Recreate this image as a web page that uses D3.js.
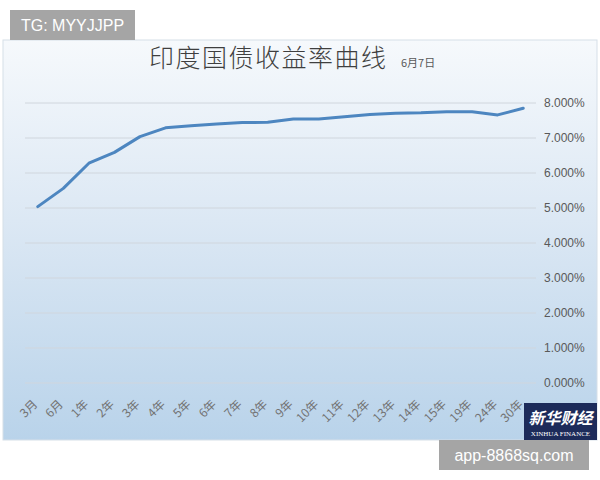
<!DOCTYPE html>
<html>
<head>
<meta charset="utf-8">
<script src="https://cdn.jsdelivr.net/npm/d3@7/dist/d3.min.js"></script>
<style>
  body { margin: 0; background: #fff; }
  svg { display: block; }
  .tick text { font-family: "Liberation Sans", Arial, sans-serif; }
</style>
</head>
<body>
<svg id="chart" width="600" height="480"></svg>
<script>
"use strict";

// datos
const categorias = ["3月", "6月", "1年", "2年", "3年", "4年", "5年", "6年", "7年", "8年",
    "9年", "10年", "11年", "12年", "13年", "14年", "15年", "19年", "24年", "30年"];
const rendimientos = [5.04, 5.56, 6.28, 6.59, 7.04, 7.29, 7.35, 7.40, 7.44, 7.45,
    7.54, 7.54, 7.61, 7.67, 7.71, 7.72, 7.75, 7.75, 7.66, 7.85];
const ticksY = [0, 1, 2, 3, 4, 5, 6, 7, 8];

const svg = d3.select("#chart");
const panel = { x: 3, y: 40, w: 594, h: 400 };

const defs = svg.append("defs");
const grad = defs.append("linearGradient")
    .attr("id", "fondo")
    .attr("x1", 0).attr("y1", 0).attr("x2", 0).attr("y2", 1);
grad.append("stop").attr("offset", "0%").attr("stop-color", "#f6f9fc");
grad.append("stop").attr("offset", "45%").attr("stop-color", "#dce8f4");
grad.append("stop").attr("offset", "100%").attr("stop-color", "#b9d3ea");

svg.append("rect")
    .attr("x", panel.x).attr("y", panel.y)
    .attr("width", panel.w).attr("height", panel.h)
    .attr("fill", "url(#fondo)")
    .attr("stroke", "#d6dfe8");

const x = d3.scalePoint()
    .domain(categorias)
    .range([25, 536])
    .padding(0.5);

const y = d3.scaleLinear()
    .domain([0, 8])
    .range([383, 103]);

// lineas de cuadricula
svg.append("g")
    .selectAll("line")
    .data(ticksY)
    .enter().append("line")
    .attr("x1", 25).attr("x2", 536)
    .attr("y1", d => y(d)).attr("y2", d => y(d))
    .attr("stroke", "#d0d6dd")
    .attr("stroke-width", 1);

// eje derecho
const ejeY = svg.append("g")
    .attr("transform", "translate(536,0)")
    .call(d3.axisRight(y).tickValues(ticksY).tickSize(0).tickPadding(8)
        .tickFormat(d => d.toFixed(3) + "%"));
ejeY.select(".domain").remove();
ejeY.selectAll("text")
    .attr("fill", "#595959")
    .style("font-size", "12px");

// eje inferior
const ejeX = svg.append("g")
    .attr("transform", "translate(0,392)")
    .call(d3.axisBottom(x).tickSize(0).tickPadding(0));
ejeX.select(".domain").remove();
ejeX.selectAll("text")
    .attr("fill", "#737373")
    .style("font-size", "12px")
    .style("font-family", "'Noto Sans CJK SC', sans-serif")
    .attr("text-anchor", "end")
    .attr("dy", "0.35em")
    .attr("transform", "translate(-3,10) rotate(-45)");

// curva
const linea = d3.line()
    .x((d, i) => x(categorias[i]))
    .y(d => y(d));

svg.append("path")
    .datum(rendimientos)
    .attr("d", linea)
    .attr("fill", "none")
    .attr("stroke", "#4d86c0")
    .attr("stroke-width", 3)
    .attr("stroke-linejoin", "round")
    .attr("stroke-linecap", "round");

// titulo
svg.append("text")
    .attr("x", 149).attr("y", 67)
    .attr("fill", "#3f3f3f")
    .style("font-family", "KaiTi, STKaiti, 'Noto Sans CJK SC', sans-serif")
    .style("font-size", "25px")
    .style("font-weight", "300")
    .style("letter-spacing", "1.5px")
    .text("印度国债收益率曲线");
svg.append("text")
    .attr("x", 401).attr("y", 67)
    .attr("fill", "#595959")
    .style("font-family", "'Noto Sans CJK SC', sans-serif")
    .style("font-size", "11px")
    .text("6月7日");

// marcas de agua
function etiqueta(xx, yy, w, h, texto, tam) {
    svg.append("rect").attr("x", xx).attr("y", yy).attr("width", w).attr("height", h)
        .attr("fill", "#a5a5a5");
    svg.append("text").attr("x", xx + w / 2).attr("y", yy + h / 2)
        .attr("text-anchor", "middle").attr("dy", "0.36em")
        .attr("fill", "#fff")
        .style("font-family", "'Liberation Sans', Arial, sans-serif")
        .style("font-size", tam + "px")
        .text(texto);
}
etiqueta(10, 10, 125, 30, "TG: MYYJJPP", 16);
etiqueta(439, 440, 150, 30, "app-8868sq.com", 16);

// logo
const logo = svg.append("g").attr("transform", "translate(524,403)");
logo.append("rect").attr("width", 73).attr("height", 37).attr("fill", "#1d2b5a");
logo.append("text").attr("x", 36.5).attr("y", 21)
    .attr("text-anchor", "middle").attr("fill", "#fff")
    .style("font-family", "KaiTi, 'Noto Sans CJK SC', sans-serif")
    .style("font-size", "16px").style("font-style", "italic").style("font-weight", "bold")
    .text("新华财经");
logo.append("text").attr("x", 36.5).attr("y", 33)
    .attr("text-anchor", "middle").attr("fill", "#fff")
    .style("font-family", "'Liberation Serif', serif")
    .style("font-size", "7px")
    .text("XINHUA FINANCE");
</script>
</body>
</html>
